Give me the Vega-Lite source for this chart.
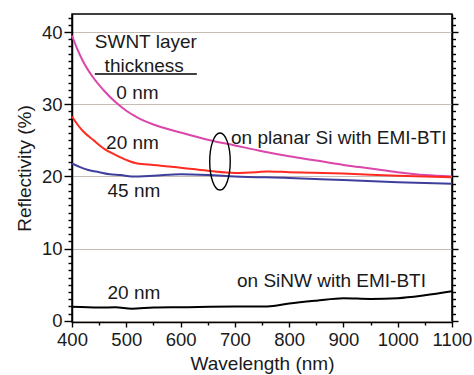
{
  "$schema": "https://vega.github.io/schema/vega-lite/v6.json",
  "width": 380,
  "height": 308,
  "autosize": {"type": "none"},
  "padding": {"left": 72, "top": 14, "right": 22, "bottom": 53},
  "background": "white",
  "config": {
    "view": {"stroke": "black", "strokeWidth": 1.5},
    "font": "Liberation Sans",
    "axis": {"domainColor": "black", "domainWidth": 1.5, "ticks": true, "tickColor": "black", "tickWidth": 1.4, "labelFont": "Liberation Sans", "titleFont": "Liberation Sans", "labelColor": "#1a1a1a", "titleColor": "#1a1a1a", "titleFontWeight": "normal"}
  },
  "datasets": {
    "curves": [
      {"series": "0 nm", "wl": 400, "r": 39.5},
      {"series": "0 nm", "wl": 410, "r": 37.6},
      {"series": "0 nm", "wl": 420, "r": 36.0},
      {"series": "0 nm", "wl": 440, "r": 33.6},
      {"series": "0 nm", "wl": 460, "r": 31.8},
      {"series": "0 nm", "wl": 480, "r": 30.3},
      {"series": "0 nm", "wl": 500, "r": 29.1},
      {"series": "0 nm", "wl": 520, "r": 28.2},
      {"series": "0 nm", "wl": 550, "r": 27.2},
      {"series": "0 nm", "wl": 600, "r": 26.1},
      {"series": "0 nm", "wl": 650, "r": 25.1},
      {"series": "0 nm", "wl": 700, "r": 24.3},
      {"series": "0 nm", "wl": 750, "r": 23.5},
      {"series": "0 nm", "wl": 800, "r": 22.8},
      {"series": "0 nm", "wl": 850, "r": 22.2},
      {"series": "0 nm", "wl": 900, "r": 21.6},
      {"series": "0 nm", "wl": 950, "r": 21.1},
      {"series": "0 nm", "wl": 1000, "r": 20.6},
      {"series": "0 nm", "wl": 1050, "r": 20.2},
      {"series": "0 nm", "wl": 1100, "r": 20.0},
      {"series": "20 nm planar", "wl": 400, "r": 28.3},
      {"series": "20 nm planar", "wl": 410, "r": 27.2},
      {"series": "20 nm planar", "wl": 420, "r": 26.3},
      {"series": "20 nm planar", "wl": 440, "r": 25.0},
      {"series": "20 nm planar", "wl": 460, "r": 23.8},
      {"series": "20 nm planar", "wl": 480, "r": 23.0},
      {"series": "20 nm planar", "wl": 500, "r": 22.3},
      {"series": "20 nm planar", "wl": 520, "r": 21.8},
      {"series": "20 nm planar", "wl": 550, "r": 21.6},
      {"series": "20 nm planar", "wl": 600, "r": 21.2},
      {"series": "20 nm planar", "wl": 650, "r": 20.8},
      {"series": "20 nm planar", "wl": 700, "r": 20.5},
      {"series": "20 nm planar", "wl": 740, "r": 20.6},
      {"series": "20 nm planar", "wl": 760, "r": 20.7},
      {"series": "20 nm planar", "wl": 800, "r": 20.6},
      {"series": "20 nm planar", "wl": 900, "r": 20.4},
      {"series": "20 nm planar", "wl": 1000, "r": 20.1},
      {"series": "20 nm planar", "wl": 1100, "r": 19.9},
      {"series": "45 nm", "wl": 400, "r": 21.8},
      {"series": "45 nm", "wl": 415, "r": 21.3},
      {"series": "45 nm", "wl": 430, "r": 20.9},
      {"series": "45 nm", "wl": 450, "r": 20.6},
      {"series": "45 nm", "wl": 470, "r": 20.3},
      {"series": "45 nm", "wl": 490, "r": 20.2},
      {"series": "45 nm", "wl": 510, "r": 20.0},
      {"series": "45 nm", "wl": 550, "r": 20.1},
      {"series": "45 nm", "wl": 600, "r": 20.3},
      {"series": "45 nm", "wl": 650, "r": 20.2},
      {"series": "45 nm", "wl": 700, "r": 20.0},
      {"series": "45 nm", "wl": 800, "r": 19.8},
      {"series": "45 nm", "wl": 900, "r": 19.5},
      {"series": "45 nm", "wl": 1000, "r": 19.2},
      {"series": "45 nm", "wl": 1100, "r": 19.0},
      {"series": "20 nm SiNW", "wl": 400, "r": 1.95},
      {"series": "20 nm SiNW", "wl": 450, "r": 1.85},
      {"series": "20 nm SiNW", "wl": 480, "r": 1.9},
      {"series": "20 nm SiNW", "wl": 510, "r": 1.7},
      {"series": "20 nm SiNW", "wl": 550, "r": 1.85},
      {"series": "20 nm SiNW", "wl": 600, "r": 1.9},
      {"series": "20 nm SiNW", "wl": 700, "r": 2.0},
      {"series": "20 nm SiNW", "wl": 760, "r": 2.0},
      {"series": "20 nm SiNW", "wl": 800, "r": 2.4},
      {"series": "20 nm SiNW", "wl": 850, "r": 2.8},
      {"series": "20 nm SiNW", "wl": 900, "r": 3.15},
      {"series": "20 nm SiNW", "wl": 950, "r": 3.05},
      {"series": "20 nm SiNW", "wl": 1000, "r": 3.15},
      {"series": "20 nm SiNW", "wl": 1050, "r": 3.55},
      {"series": "20 nm SiNW", "wl": 1100, "r": 4.1}
    ],
    "centerLabels": [
      {"label": "SWNT layer", "wl": 536, "r": 37.75},
      {"label": "thickness", "wl": 533, "r": 34.5},
      {"label": "0 nm", "wl": 520.6, "r": 30.7},
      {"label": "20 nm", "wl": 511.4, "r": 23.8},
      {"label": "45 nm", "wl": 514, "r": 17.1},
      {"label": "20 nm", "wl": 514, "r": 3.0}
    ],
    "leftLabels": [
      {"label": "on planar Si with EMI-BTI", "wl": 693, "r": 24.5},
      {"label": "on SiNW with EMI-BTI", "wl": 704, "r": 4.65}
    ],
    "underline": [{"wl": 442, "wl2": 630, "r": 34.2}],
    "ellipse": [{"wl": 672.6, "r": 22.07}]
  },
  "resolve": {"scale": {"x": "independent", "y": "independent", "color": "independent"}, "axis": {"x": "independent", "y": "independent"}},
  "layer": [
    {
      "data": {"name": "curves"},
      "mark": {"type": "line", "strokeWidth": 2, "interpolate": "monotone"},
      "encoding": {
        "x": {"field": "wl", "type": "quantitative", "scale": {"domain": [400, 1100], "nice": false, "zero": false},
          "axis": {"orient": "bottom", "values": [400, 500, 600, 700, 800, 900, 1000, 1100], "format": "d",
            "tickSize": 5, "labelFontSize": 18.5, "labelPadding": 3, "labelOverlap": false, "labelFlush": false,
            "title": "Wavelength (nm)", "titleFontSize": 19, "titlePadding": 6, "grid": false}},
        "y": {"field": "r", "type": "quantitative", "scale": {"domain": [-0.15, 42.5], "nice": false, "zero": false},
          "axis": {"orient": "left", "values": [0, 10, 20, 30, 40], "format": "d",
            "tickSize": 8, "labelFontSize": 18.5, "labelPadding": 2, "labelOverlap": false, "labelFlush": false,
            "title": "Reflectivity (%)", "titleFontSize": 19, "titlePadding": 7,
            "grid": true, "gridColor": "#c8bcb4", "gridWidth": 1}},
        "color": {"field": "series", "type": "nominal", "legend": null,
          "scale": {"domain": ["0 nm", "20 nm planar", "45 nm", "20 nm SiNW"], "range": ["#dc45aa", "#ff2a20", "#3e3f9c", "#000000"]}}
      }
    },
    {
      "data": {"name": "underline"},
      "mark": {"type": "rule", "color": "black", "strokeWidth": 1.5},
      "encoding": {
        "x": {"field": "wl", "type": "quantitative", "scale": {"domain": [400, 1100], "nice": false, "zero": false},
          "axis": {"orient": "bottom", "values": [450, 550, 650, 750, 850, 950, 1050], "tickSize": 3, "labels": false, "domain": false, "title": null, "grid": false}},
        "x2": {"field": "wl2"},
        "y": {"field": "r", "type": "quantitative", "scale": {"domain": [-0.15, 42.5], "nice": false, "zero": false},
          "axis": {"orient": "left", "values": [1,2,3,4,5,6,7,8,9,11,12,13,14,15,16,17,18,19,21,22,23,24,25,26,27,28,29,31,32,33,34,35,36,37,38,39,41,42], "tickSize": 4, "labels": false, "domain": false, "title": null, "grid": false}}
      }
    },
    {
      "data": {"name": "ellipse"},
      "mark": {"type": "point", "shape": "M0,-1A0.36,1,0,1,1,0,1A0.36,1,0,1,1,0,-1Z", "size": 3249, "filled": false, "stroke": "black", "strokeWidth": 1.4, "opacity": 1},
      "encoding": {
        "x": {"field": "wl", "type": "quantitative", "scale": {"domain": [400, 1100], "nice": false, "zero": false}, "axis": null},
        "y": {"field": "r", "type": "quantitative", "scale": {"domain": [-0.15, 42.5], "nice": false, "zero": false},
          "axis": {"orient": "right", "values": [0, 10, 20, 30, 40], "tickSize": 6, "labels": false, "title": null, "grid": false}}
      }
    },
    {
      "data": {"name": "centerLabels"},
      "mark": {"type": "text", "align": "center", "baseline": "alphabetic", "fontSize": 19, "color": "#1a1a1a"},
      "encoding": {
        "x": {"field": "wl", "type": "quantitative", "scale": {"domain": [400, 1100], "nice": false, "zero": false}, "axis": null},
        "y": {"field": "r", "type": "quantitative", "scale": {"domain": [-0.15, 42.5], "nice": false, "zero": false},
          "axis": {"orient": "right", "values": [1,2,3,4,5,6,7,8,9,11,12,13,14,15,16,17,18,19,21,22,23,24,25,26,27,28,29,31,32,33,34,35,36,37,38,39,41,42], "tickSize": 3.5, "labels": false, "domain": false, "title": null, "grid": false}},
        "text": {"field": "label", "type": "nominal"}
      }
    },
    {
      "data": {"name": "leftLabels"},
      "mark": {"type": "text", "align": "left", "baseline": "alphabetic", "fontSize": 19, "color": "#1a1a1a"},
      "encoding": {
        "x": {"field": "wl", "type": "quantitative", "scale": {"domain": [400, 1100], "nice": false, "zero": false}, "axis": null},
        "y": {"field": "r", "type": "quantitative", "scale": {"domain": [-0.15, 42.5], "nice": false, "zero": false}, "axis": null},
        "text": {"field": "label", "type": "nominal"}
      }
    }
  ]
}
